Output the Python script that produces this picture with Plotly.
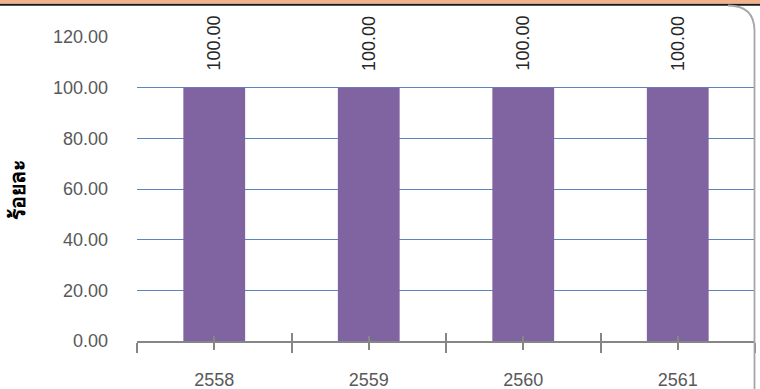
import plotly.graph_objects as go

# Data
years = ["2558", "2559", "2560", "2561"]
percent = [100.00, 100.00, 100.00, 100.00]
y_ticks = [0, 20, 40, 60, 80, 100, 120]
y_ticktext = [f"{v:.2f}" for v in y_ticks]
y_title = "ร้อยละ"

W, H = 760, 389
BAR = "#8064A2"
GRID = "#5B84C0"
AXIS = "#868686"
LABEL = "#595959"
FONT = "Liberation Sans, Arial, sans-serif"


def px_x(v):
    return v / W


def px_y(v):
    return 1 - v / H


idx = list(range(len(years)))
bounds = [i - 0.5 for i in range(len(years) + 1)]

fig = go.Figure()
fig.add_trace(go.Bar(x=idx, y=percent, marker=dict(color=BAR, line=dict(width=0)),
                     width=0.4, hoverinfo="skip"))

# rotated value labels above each bar
for i, v in zip(idx, percent):
    fig.add_annotation(x=i, y=v, xref="x", yref="y", text=f"{v:.2f}", textangle=-90,
                       showarrow=False, yanchor="bottom", xanchor="center", yshift=15,
                       font=dict(family=FONT, size=18, color="#262626"))

x_dom = [px_x(137), px_x(755)]
y_dom = [px_y(341), px_y(37)]

fig.update_layout(
    template="none",
    width=W, height=H, margin=dict(l=0, r=0, t=0, b=0, autoexpand=False),
    paper_bgcolor="white", plot_bgcolor="white", showlegend=False,
    xaxis=dict(domain=x_dom, range=[-0.5, len(years) - 0.5], tickmode="array",
               tickvals=idx, ticktext=years, ticks="outside", ticklen=7, tickwidth=1.5,
               tickcolor=AXIS, showline=True, linecolor=AXIS, linewidth=2,
               showgrid=False, zeroline=False, ticklabelstandoff=14, automargin=False,
               tickfont=dict(family=FONT, size=18, color=LABEL),
               minor=dict(tickmode="array", tickvals=bounds, ticks="outside",
                          ticklen=10, tickwidth=1.5, tickcolor=AXIS, showgrid=False)),
    xaxis2=dict(domain=x_dom, range=[-0.5, len(years) - 0.5], overlaying="x", anchor="y",
                side="bottom", tickmode="array", tickvals=idx, ticks="inside", ticklen=5,
                tickwidth=1.5, tickcolor=AXIS, showticklabels=False, showgrid=False,
                zeroline=False, showline=False, automargin=False,
                minor=dict(tickmode="array", tickvals=bounds, ticks="inside",
                           ticklen=8, tickwidth=1.5, tickcolor=AXIS, showgrid=False)),
    yaxis=dict(domain=y_dom, range=[0, 120], tickmode="array", tickvals=y_ticks,
               ticktext=y_ticktext, showgrid=True, gridcolor=GRID, gridwidth=1.2,
               zeroline=False, showline=False, ticks="", ticklabelstandoff=28,
               automargin=False, tickfont=dict(family=FONT, size=18, color=LABEL)),
)

# empty trace so the overlay axis renders its ticks
fig.add_trace(go.Scatter(x=[None], y=[None], xaxis="x2", yaxis="y", hoverinfo="skip"))

# y-axis title
fig.add_annotation(x=px_x(18), y=px_y(190), xref="paper", yref="paper", text=f"<b>{y_title}</b>",
                   textangle=-90, showarrow=False, xanchor="center", yanchor="middle",
                   font=dict(family=FONT, size=21, color="#000000"))

# page decorations: orange band, dark rule, rounded chart frame on the right
fig.add_shape(type="rect", xref="paper", yref="paper", x0=0, x1=1, y0=px_y(3.5), y1=1,
              fillcolor="#F5B18A", line=dict(width=0), layer="above")
fig.add_shape(type="line", xref="paper", yref="paper", x0=0, x1=1, y0=px_y(4.8), y1=px_y(4.8),
              line=dict(color="#1A1A1A", width=2), layer="above")
frame = (f"M {px_x(728)},{px_y(5.5)} Q {px_x(754.5)},{px_y(5.5)} {px_x(754.5)},{px_y(31)} "
         f"L {px_x(754.5)},{px_y(389)}")
fig.add_shape(type="path", xref="paper", yref="paper", path=frame,
              line=dict(color="#A6A6A6", width=1.8), layer="above")

fig.write_html("out.html")
